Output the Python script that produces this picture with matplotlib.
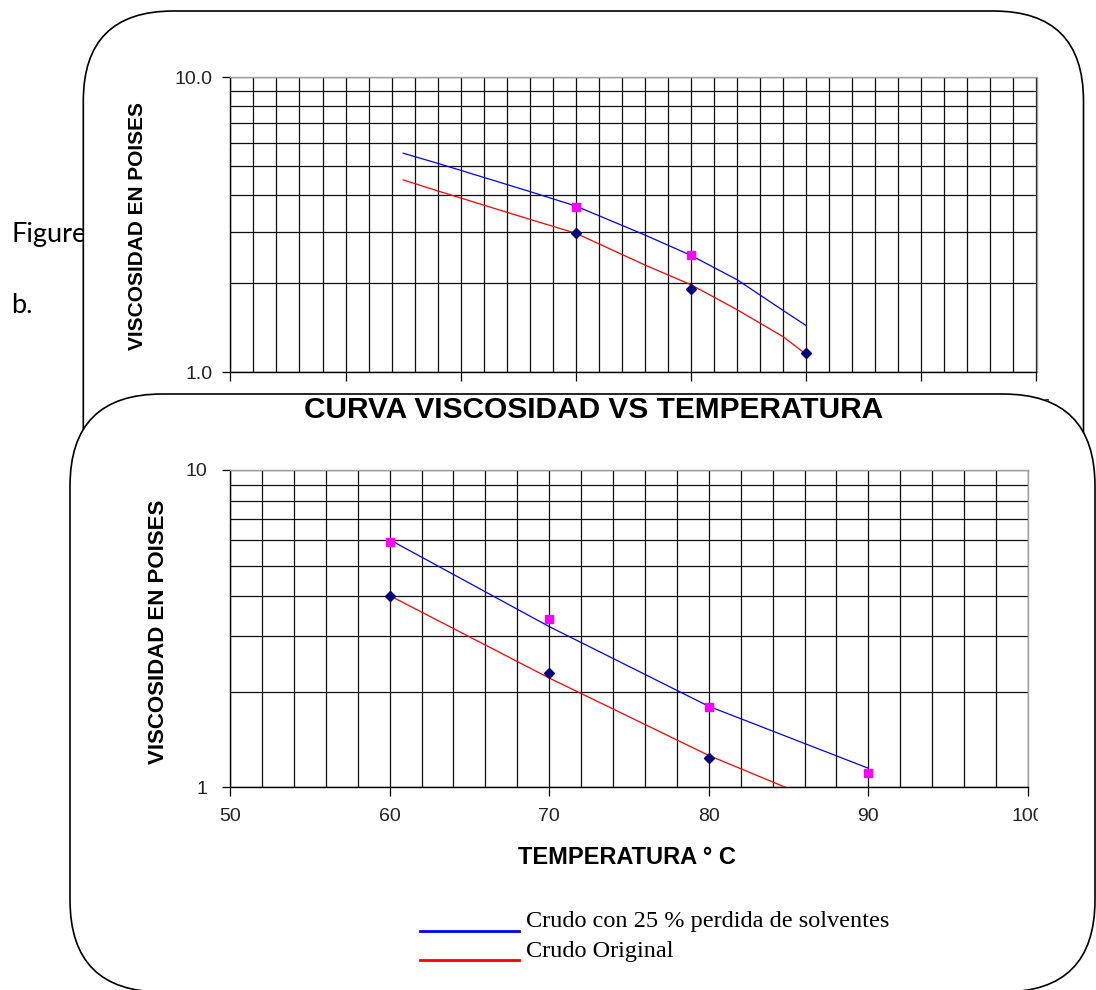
import matplotlib
matplotlib.use('Agg')
import matplotlib.pyplot as plt
from matplotlib.patches import FancyBboxPatch
from matplotlib.lines import Line2D
from matplotlib.ticker import MultipleLocator, FixedLocator, FixedFormatter, NullFormatter
from matplotlib.transforms import Bbox, TransformedBbox

# upper chart: trend curves and points
top_temp = [45, 48, 56, 60, 66, 70, 74, 78, 80]
top_blue = [5.53, 5.11, 4.10, 3.66, 2.92, 2.49, 2.06, 1.62, 1.44]
top_red = [4.49, 4.12, 3.30, 2.96, 2.31, 1.98, 1.63, 1.32, 1.15]
top_sq_temp = [60, 70]
top_sq_visc = [3.64, 2.49]
top_dia_temp = [60, 70, 80]
top_dia_visc = [2.96, 1.92, 1.16]
top_xticks = [30, 40, 50, 60, 70, 80, 90, 100]

# lower chart
bot_blue_temp = [60, 70, 80, 90]
bot_blue_visc = [6.03, 3.21, 1.80, 1.148]
bot_red_temp = [60, 70, 80, 84.8]
bot_red_visc = [4.02, 2.21, 1.26, 1.0]
bot_sq_temp = [60, 70, 80, 90]
bot_sq_visc = [5.92, 3.39, 1.79, 1.11]
bot_dia_temp = [60, 70, 80]
bot_dia_visc = [4.02, 2.29, 1.24]
bot_xticks = [50, 60, 70, 80, 90, 100]

title = 'CURVA VISCOSIDAD VS TEMPERATURA'
ylabel = 'VISCOSIDAD EN POISES'
xlabel = 'TEMPERATURA ° C'
legend_labels = ['Crudo con 25 % perdida de solventes', 'Crudo Original']

W, H = 1096, 990
plt.rcParams['font.family'] = ['Liberation Sans', 'DejaVu Sans']
fig = plt.figure(figsize=(W / 100, H / 100), dpi=100)
fig.patch.set_facecolor('white')


def px(x, y):
    # pixel position (from top-left) -> figure fraction
    return x / W, 1 - y / H


def rbox(x0, y0, x1, y1, r, z):
    p = FancyBboxPatch((x0 / 100, (H - y1) / 100), (x1 - x0) / 100, (y1 - y0) / 100,
                       boxstyle=f'round,pad=0,rounding_size={r / 100}',
                       transform=fig.dpi_scale_trans, facecolor='white',
                       edgecolor='black', lw=1.2, zorder=z)
    fig.add_artist(p)
    return p


def style_axes(ax, xmin, xmax, xticks, ylabels, xpad, ypad):
    ax.set_yscale('log')
    ax.set_xlim(xmin, xmax)
    ax.set_ylim(1, 10)
    ax.set_xticks(xticks)
    ax.xaxis.set_minor_locator(MultipleLocator(2))
    ax.yaxis.set_major_locator(FixedLocator([1, 10]))
    ax.yaxis.set_major_formatter(FixedFormatter(ylabels))
    ax.yaxis.set_minor_locator(FixedLocator(range(2, 10)))
    ax.yaxis.set_minor_formatter(NullFormatter())
    ax.grid(True, which='both', color='#101010', lw=0.9)
    ax.set_axisbelow(True)
    ax.tick_params(which='minor', length=0)
    ax.tick_params(axis='x', which='major', direction='out', length=6.7, width=0.9,
                   pad=xpad, labelsize=14, labelcolor='#222222')
    ax.tick_params(axis='y', which='major', direction='out', length=6, width=0.9,
                   pad=ypad, labelsize=14, labelcolor='#222222')
    for s in ['top', 'right']:
        ax.spines[s].set_color('#a0a0a0')
        ax.spines[s].set_linewidth(1.0)
    for s in ['left', 'bottom']:
        ax.spines[s].set_color('black')
        ax.spines[s].set_linewidth(1.0)
    ax.set_facecolor('white')


# text to the left of the first box
fig.text(*px(11, 241.7), 'Figure', family=['Lato', 'DejaVu Sans'], fontsize=19.5,
         va='baseline', zorder=0.5)
fig.text(*px(11, 313), 'b.', family=['Lato', 'DejaVu Sans'], fontsize=19.5,
         va='baseline', zorder=0.5)

# first (upper) rounded box
rbox(83.3, 11, 1083.5, 583, 90, 1)

# upper chart
ax1 = fig.add_axes([230.4 / W, 1 - 372.3 / H, (1036.5 - 230.4) / W, (372.3 - 77.3) / H],
                   zorder=2)
style_axes(ax1, 30, 100, top_xticks, ['1.0', '10.0'], 12.5, 7)
ax1.plot(top_temp, top_blue, color='#0000ff', lw=0.9, zorder=3)
ax1.plot(top_temp, top_red, color='#ff0000', lw=0.9, zorder=3)
ax1.plot(top_sq_temp, top_sq_visc, 's', color='#ff00ff', ms=6.3, zorder=4)
ax1.plot(top_dia_temp, top_dia_visc, 'D', color='#000080', ms=4.6, zorder=4)
fig.text(*px(137.5, 225.5), ylabel, rotation=90, fontsize=15, fontweight='bold',
         ha='center', va='center', zorder=2.5)

# second (lower) rounded box, covers the bottom of the first one
rbox(70, 394, 1095, 992, 92, 3)

# lower chart
ax2 = fig.add_axes([230 / W, 1 - 787.3 / H, (1028 - 230) / W, (787.3 - 470) / H],
                   zorder=4)
style_axes(ax2, 50, 100, bot_xticks, ['1', '10'], 8.5, 10.5)
ax2.plot(bot_blue_temp, bot_blue_visc, color='#0000ff', lw=0.9, zorder=3)
ax2.plot(bot_red_temp, bot_red_visc, color='#ff0000', lw=0.9, zorder=3)
ax2.plot(bot_sq_temp, bot_sq_visc, 's', color='#ff00ff', ms=6.3, zorder=4)
ax2.plot(bot_dia_temp, bot_dia_visc, 'D', color='#000080', ms=4.6, zorder=4)

fig.text(*px(593.5, 410), title, fontsize=21.5, fontweight='bold',
         ha='center', va='center', zorder=5)
fig.text(*px(626.5, 858), xlabel, fontsize=17, fontweight='bold',
         ha='center', va='center', zorder=5)
fig.text(*px(158.5, 632), ylabel, rotation=90, fontsize=16, fontweight='bold',
         ha='center', va='center', zorder=5)

# legend drawn as loose lines and text, as in the picture
leg_colors = ['#0000ff', '#ff0000']
leg_y = [930.7, 960]
leg_text_y = [926.7, 956.7]
for lab, c, ly, ty in zip(legend_labels, leg_colors, leg_y, leg_text_y):
    x0, y0 = px(420, ly)
    x1, _ = px(518.5, ly)
    fig.add_artist(Line2D([x0, x1], [y0, y0], color=c, lw=2.0, zorder=5))
    fig.text(*px(525.7, ty), lab, family=['Liberation Serif', 'DejaVu Serif'],
             fontsize=17.5, va='baseline', zorder=5)

# clip the "100" tick label like the cut-off source image
fig.canvas.draw()
for ax, xr in [(ax1, 1049), (ax2, 1037.5)]:
    for tick in ax.xaxis.get_major_ticks():
        if tick.label1.get_text() == '100':
            tick.label1.set_clip_box(
                TransformedBbox(Bbox([[0, 0], [xr / W, 1]]), fig.transFigure))
            tick.label1.set_clip_on(True)

fig.savefig('out.png', dpi=100)
